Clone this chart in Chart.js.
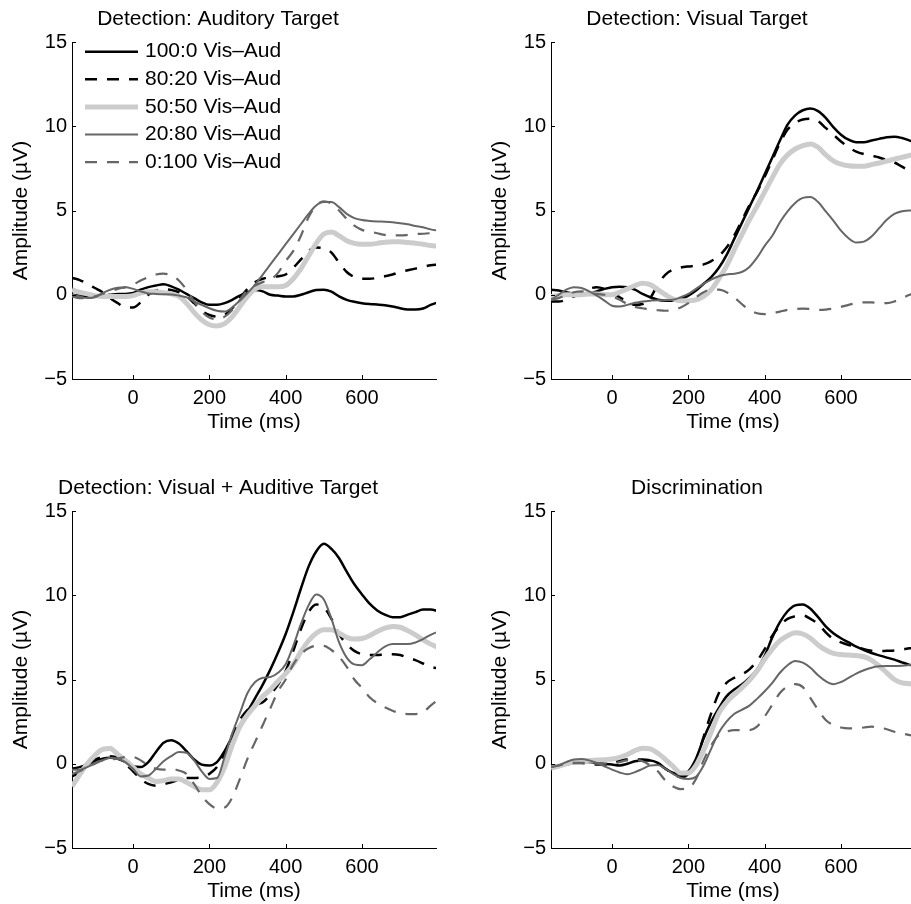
<!DOCTYPE html>
<html>
<head>
<meta charset="utf-8">
<script src="https://cdn.jsdelivr.net/npm/chart.js@4.4.1/dist/chart.umd.min.js"></script>
<style>
html, body { margin: 0; padding: 0; background: #fff; overflow: hidden; }
#wrap { position: relative; width: 911px; height: 904px; overflow: hidden; background: #fff; }
#wrap canvas { position: absolute; }
</style>
</head>
<body>
<div id="wrap">
  <canvas id="aud" width="508" height="440" style="left:0px;top:0px"></canvas>
  <canvas id="vis" width="508" height="440" style="left:479px;top:0px"></canvas>
  <canvas id="av" width="508" height="440" style="left:0px;top:469px"></canvas>
  <canvas id="dis" width="508" height="440" style="left:479px;top:469px"></canvas>
</div>
<script>
// -------------------- Data --------------------
const times = [-160, -140, -120, -100, -80, -60, -40, -20, 0, 20, 40, 60, 80, 100, 120, 140, 160, 180, 200,
  220, 240, 260, 280, 300, 320, 340, 360, 380, 400, 420, 440, 460, 480, 500, 520, 540, 560, 580, 600,
  620, 640, 660, 680, 700, 720, 740, 760, 780, 800];
const xTicks = [0, 200, 400, 600];
const yTicks = [-5, 0, 5, 10, 15];
const seriesLabels = ['100:0 Vis\u2013Aud', '80:20 Vis\u2013Aud', '50:50 Vis\u2013Aud', '20:80 Vis\u2013Aud', '0:100 Vis\u2013Aud'];
const panelTitles = ['Detection: Auditory Target', 'Detection: Visual Target',
  'Detection: Visual + Auditive Target', 'Discrimination'];

// Detection: Auditory Target
const aud100 = [0.0, -0.05, -0.1, -0.1, -0.05, 0.0, 0.05, 0.05, 0.1, 0.3, 0.45, 0.55, 0.62, 0.5, 0.3, 0.05, -0.2, -0.45, -0.6,
  -0.6, -0.5, -0.3, -0.05, 0.15, 0.28, 0.2, 0.0, -0.05, -0.1, -0.1, 0.0, 0.15, 0.28, 0.3, 0.18, -0.1, -0.3, -0.42, -0.5,
  -0.55, -0.58, -0.62, -0.7, -0.8, -0.87, -0.88, -0.82, -0.6, -0.45];
const aud80 = [1.0, 0.87, 0.65, 0.4, 0.15, -0.2, -0.5, -0.75, -0.75, -0.45, 0.0, 0.25, 0.32, 0.28, 0.15, -0.1, -0.5, -0.95, -1.2,
  -1.3, -1.2, -0.8, -0.2, 0.35, 0.75, 0.95, 1.05, 1.1, 1.2, 1.6, 2.1, 2.6, 2.8, 2.75, 2.5, 1.9, 1.35, 1.05, 0.95,
  0.95, 1.0, 1.1, 1.2, 1.35, 1.45, 1.55, 1.65, 1.75, 1.8];
const aud50 = [0.3, 0.15, 0.05, -0.05, -0.1, -0.1, -0.1, -0.1, -0.05, 0.1, 0.18, 0.18, 0.12, 0.05, -0.1, -0.5, -1.05, -1.5, -1.78,
  -1.85, -1.72, -1.3, -0.7, -0.1, 0.35, 0.47, 0.47, 0.47, 0.55, 0.95, 1.55, 2.3, 3.05, 3.6, 3.72, 3.5, 3.2, 3.05, 3.0,
  3.0, 3.05, 3.12, 3.15, 3.15, 3.1, 3.05, 3.0, 2.92, 2.88];
const aud20 = [0.0, -0.1, -0.2, -0.15, 0.1, 0.3, 0.42, 0.45, 0.35, 0.2, 0.08, 0.05, 0.03, 0.02, -0.05, -0.15, -0.4, -0.6, -0.8,
  -0.95, -1.0, -0.75, -0.35, 0.1, 0.6, 1.2, 1.8, 2.4, 3.0, 3.6, 4.2, 4.8, 5.3, 5.5, 5.5, 5.2, 4.8, 4.55, 4.43,
  4.38, 4.35, 4.33, 4.3, 4.25, 4.18, 4.08, 4.0, 3.88, 3.8];
const aud0 = [-0.1, -0.2, -0.2, -0.1, 0.05, 0.2, 0.35, 0.45, 0.6, 0.85, 1.05, 1.2, 1.25, 1.15, 0.85, 0.3, -0.4, -1.0, -1.35,
  -1.45, -1.3, -0.9, -0.3, 0.3, 0.55, 0.75, 0.9, 1.3, 2.0, 2.6, 3.5, 4.6, 5.3, 5.55, 5.4, 5.0, 4.5, 4.1, 3.85,
  3.75, 3.65, 3.55, 3.52, 3.52, 3.55, 3.6, 3.62, 3.65, 3.65];

// Detection: Visual Target
const vis100 = [0.3, 0.25, 0.15, 0.05, 0.0, 0.05, 0.2, 0.35, 0.45, 0.48, 0.45, 0.3, 0.05, -0.15, -0.3, -0.35, -0.35, -0.25, -0.05,
  0.25, 0.65, 1.05, 1.6, 2.35, 3.3, 4.25, 5.2, 6.15, 7.15, 8.15, 9.15, 10.1, 10.65, 10.95, 11.05, 10.9, 10.5, 9.95, 9.5,
  9.2, 9.05, 9.05, 9.15, 9.25, 9.35, 9.38, 9.3, 9.15, 9.0];
const vis80 = [-0.4, -0.4, -0.3, -0.1, 0.1, 0.35, 0.45, 0.35, 0.15, -0.15, -0.4, -0.6, -0.55, -0.2, 0.6, 1.2, 1.5, 1.62, 1.68,
  1.72, 1.8, 2.0, 2.3, 2.8, 3.5, 4.4, 5.3, 6.1, 7.0, 8.0, 9.0, 9.8, 10.2, 10.4, 10.45, 10.3, 9.9, 9.5, 9.1,
  8.75, 8.5, 8.35, 8.25, 8.15, 8.0, 7.85, 7.6, 7.35, 7.1];
const vis50 = [-0.1, -0.05, 0.0, 0.0, 0.0, 0.05, 0.05, 0.0, 0.0, 0.15, 0.35, 0.55, 0.68, 0.6, 0.3, 0.0, -0.25, -0.35, -0.35,
  -0.3, -0.1, 0.3, 0.95, 1.7, 2.65, 3.55, 4.45, 5.25, 6.1, 6.95, 7.75, 8.3, 8.65, 8.85, 8.95, 8.75, 8.3, 7.95, 7.75,
  7.65, 7.62, 7.63, 7.72, 7.82, 7.93, 8.05, 8.15, 8.27, 8.35];
const vis20 = [-0.3, 0.0, 0.3, 0.45, 0.4, 0.2, -0.05, -0.35, -0.65, -0.7, -0.6, -0.48, -0.4, -0.35, -0.32, -0.32, -0.3, -0.15, 0.05,
  0.35, 0.65, 0.9, 1.1, 1.2, 1.25, 1.35, 1.65, 2.2, 2.9, 3.5, 4.3, 4.95, 5.45, 5.75, 5.8, 5.5, 4.95, 4.4, 3.8,
  3.35, 3.1, 3.15, 3.45, 3.95, 4.45, 4.8, 4.95, 5.0, 5.0];
const vis0 = [-0.3, -0.2, 0.0, 0.15, 0.2, 0.15, 0.05, 0.0, -0.1, -0.3, -0.55, -0.72, -0.8, -0.88, -0.92, -0.95, -0.9, -0.75, -0.5,
  -0.15, 0.15, 0.3, 0.3, 0.15, -0.15, -0.55, -0.9, -1.1, -1.15, -1.1, -1.0, -0.9, -0.85, -0.82, -0.85, -0.9, -0.88, -0.82, -0.72,
  -0.6, -0.5, -0.45, -0.45, -0.5, -0.5, -0.4, -0.2, 0.0, 0.1];

// Detection: Visual + Auditive Target
const av100 = [-0.3, -0.2, -0.05, 0.15, 0.3, 0.35, 0.3, 0.1, -0.15, -0.2, 0.1, 0.7, 1.25, 1.4, 1.2, 0.75, 0.25, -0.05, -0.1,
  0.1, 0.75, 1.6, 2.3, 3.1, 3.9, 4.7, 5.6, 6.6, 7.7, 9.0, 10.4, 11.7, 12.6, 13.05, 12.75, 12.2, 11.4, 10.65, 10.05,
  9.5, 9.1, 8.85, 8.7, 8.7, 8.85, 9.0, 9.15, 9.15, 9.05];
const av80 = [-0.75, -0.5, -0.1, 0.25, 0.4, 0.45, 0.35, 0.0, -0.45, -0.9, -1.2, -1.3, -1.2, -1.1, -0.95, -0.85, -0.85, -0.8, -0.6,
  -0.2, 0.6, 1.7, 2.6, 3.2, 3.5, 3.65, 4.1, 4.7, 5.5, 6.7, 8.0, 9.0, 9.45, 9.3, 8.6, 7.7, 7.1, 6.7, 6.5,
  6.45, 6.45, 6.5, 6.5, 6.45, 6.3, 6.15, 5.95, 5.75, 5.65];
const av50 = [-1.35, -0.65, 0.0, 0.5, 0.85, 0.9, 0.55, 0.2, -0.2, -0.6, -0.85, -1.05, -1.0, -0.9, -0.9, -1.1, -1.35, -1.55, -1.55,
  -1.1, -0.2, 1.1, 2.2, 2.9, 3.45, 4.0, 4.4, 4.9, 5.35, 5.9, 6.65, 7.3, 7.75, 7.95, 7.95, 7.75, 7.5, 7.4, 7.43,
  7.6, 7.85, 8.05, 8.15, 8.1, 7.9, 7.65, 7.35, 7.1, 6.9];
const av20 = [-0.35, -0.35, -0.2, 0.0, 0.2, 0.35, 0.3, 0.1, -0.3, -0.75, -0.7, -0.3, 0.15, 0.45, 0.7, 0.65, 0.2, -0.45, -0.9,
  -0.85, 0.4, 1.8, 3.0, 4.2, 4.85, 5.1, 5.15, 5.4, 5.9, 7.0, 8.3, 9.4, 10.05, 9.75, 8.6, 7.2, 6.3, 5.9, 5.85,
  6.2, 6.6, 6.95, 7.1, 7.1, 7.1, 7.2, 7.4, 7.65, 7.85];
const av0 = [-0.6, -0.45, -0.2, 0.05, 0.2, 0.25, 0.3, 0.4, 0.4, 0.2, -0.1, -0.3, -0.35, -0.3, -0.4, -0.6, -1.2, -1.9, -2.4,
  -2.65, -2.6, -2.0, -0.9, 0.3, 1.3, 2.3, 3.3, 4.3, 5.0, 5.9, 6.5, 6.85, 7.0, 7.0, 6.75, 6.35, 5.75, 5.0, 4.5,
  3.95, 3.6, 3.35, 3.15, 3.0, 2.95, 2.95, 3.05, 3.45, 3.8];

// Discrimination
const dis100 = [-0.2, -0.15, -0.05, 0.05, 0.1, 0.1, 0.05, 0.0, -0.05, -0.1, 0.0, 0.15, 0.2, 0.2, 0.05, -0.3, -0.55, -0.65, -0.45,
  0.3, 1.5, 2.5, 3.3, 4.0, 4.4, 4.7, 5.1, 5.6, 6.4, 7.5, 8.4, 9.05, 9.4, 9.45, 9.2, 8.7, 8.15, 7.75, 7.45,
  7.2, 6.95, 6.75, 6.57, 6.43, 6.3, 6.18, 6.02, 5.87, 5.75];
const dis80 = [-0.15, -0.1, 0.0, 0.05, 0.05, 0.0, -0.05, -0.05, 0.0, 0.2, 0.25, 0.25, 0.25, 0.2, 0.05, -0.3, -0.6, -0.8, -0.6,
  0.2, 1.6, 3.0, 4.2, 4.8, 5.1, 5.3, 5.6, 6.1, 6.8, 7.6, 8.2, 8.6, 8.75, 8.8, 8.6, 8.3, 7.8, 7.4, 7.2,
  7.05, 6.95, 6.8, 6.7, 6.68, 6.7, 6.72, 6.78, 6.85, 6.88];
const dis50 = [-0.25, -0.15, 0.0, 0.1, 0.15, 0.2, 0.22, 0.24, 0.28, 0.38, 0.55, 0.78, 0.92, 0.88, 0.62, 0.25, -0.15, -0.55, -0.55,
  -0.1, 0.8, 1.9, 3.0, 3.65, 4.1, 4.5, 4.95, 5.5, 6.2, 6.8, 7.3, 7.6, 7.77, 7.7, 7.45, 7.05, 6.75, 6.55, 6.48,
  6.45, 6.42, 6.35, 6.15, 5.8, 5.4, 5.0, 4.8, 4.75, 4.72];
const dis20 = [-0.2, -0.1, 0.1, 0.25, 0.28, 0.2, 0.05, -0.15, -0.35, -0.52, -0.62, -0.5, -0.3, -0.1, -0.08, -0.3, -0.6, -0.85, -0.9,
  -0.78, -0.1, 0.9, 1.85, 2.5, 2.95, 3.2, 3.45, 3.85, 4.3, 4.8, 5.4, 5.85, 6.1, 6.0, 5.7, 5.25, 4.9, 4.72, 4.85,
  5.1, 5.35, 5.55, 5.7, 5.78, 5.8, 5.8, 5.82, 5.86, 5.9];
const dis0 = [-0.2, -0.1, 0.0, 0.05, 0.05, 0.05, 0.0, 0.0, 0.0, 0.1, 0.2, 0.2, 0.15, -0.1, -0.45, -1.0, -1.35, -1.5, -1.45,
  -0.9, 0.2, 1.1, 1.7, 1.9, 2.0, 2.0, 2.0, 2.2, 2.8, 3.5, 4.2, 4.6, 4.72, 4.55, 3.9, 3.2, 2.6, 2.3, 2.15,
  2.1, 2.1, 2.15, 2.2, 2.15, 2.05, 1.9, 1.8, 1.7, 1.65];

// -------------------- Styles --------------------
const FONT = '"Liberation Sans", Arial, Helvetica, sans-serif';
Chart.defaults.font.family = FONT;
Chart.defaults.color = '#000';

const lineStyles = [
  { color: '#000000', width: 2.5, dash: [] },
  { color: '#000000', width: 2.5, dash: [12, 10] },
  { color: '#cccccc', width: 5, dash: [] },
  { color: '#666666', width: 2, dash: [] },
  { color: '#666666', width: 2.2, dash: [12, 10] }
];

// small ticks pointing into the plot, like the original axes
const inwardTicks = {
  id: 'inwardTicks',
  afterDraw(chart) {
    const { ctx, chartArea, scales: { x, y } } = chart;
    ctx.save();
    ctx.strokeStyle = '#000';
    ctx.lineWidth = 1;
    ctx.beginPath();
    x.ticks.forEach(t => {
      const px = Math.round(x.getPixelForValue(t.value)) + 0.5;
      ctx.moveTo(px, chartArea.bottom);
      ctx.lineTo(px, chartArea.bottom - 4);
    });
    y.ticks.forEach(t => {
      const py = Math.round(y.getPixelForValue(t.value)) + 0.5;
      ctx.moveTo(chartArea.left, py);
      ctx.lineTo(chartArea.left + 4, py);
    });
    ctx.stroke();
    ctx.restore();
  }
};

// legend drawn inside the plot area (top left), no frame
const insideLegend = {
  id: 'insideLegend',
  afterDatasetsDraw(chart, args, opts) {
    if (!opts.show) return;
    const { ctx, chartArea } = chart;
    ctx.save();
    ctx.font = '21px ' + FONT;
    ctx.textBaseline = 'middle';
    ctx.fillStyle = '#000';
    chart.data.datasets.forEach((ds, i) => {
      const yy = chartArea.top + 9.7 + i * 27.6;
      const x0 = chartArea.left + 13;
      ctx.strokeStyle = ds.borderColor;
      ctx.lineWidth = ds.borderWidth;
      ctx.setLineDash(ds.borderDash);
      ctx.beginPath();
      ctx.moveTo(x0, yy);
      ctx.lineTo(x0 + 53, yy);
      ctx.stroke();
      ctx.setLineDash([]);
      ctx.fillText(ds.label, x0 + 60, yy);
    });
    ctx.restore();
  }
};

function makeChart(id, title, series, showLegend) {
  const datasets = series.map((vals, i) => ({
    label: seriesLabels[i],
    data: times.map((t, k) => ({ x: t, y: vals[k] })),
    borderColor: lineStyles[i].color,
    borderWidth: lineStyles[i].width,
    borderDash: lineStyles[i].dash,
    pointRadius: 0,
    cubicInterpolationMode: 'monotone',
    fill: false,
    order: 5 - i
  }));
  return new Chart(document.getElementById(id), {
    type: 'line',
    data: { datasets },
    plugins: [inwardTicks, insideLegend],
    options: {
      responsive: false,
      animation: false,
      events: [],
      layout: { padding: { left: 0, right: 72, top: 0, bottom: 0 } },
      plugins: {
        legend: { display: false },
        tooltip: { enabled: false },
        insideLegend: { show: showLegend },
        title: {
          display: true,
          text: title,
          color: '#000',
          font: { size: 21, weight: 'normal' },
          padding: { top: 6.5, bottom: 10.3 }
        }
      },
      scales: {
        x: {
          type: 'linear',
          min: -160,
          max: 794,
          grid: { display: false, drawTicks: false },
          border: { display: true, color: '#000', width: 1 },
          afterBuildTicks: s => { s.ticks = xTicks.map(v => ({ value: v })); },
          afterFit: s => { s.height = 61; },
          ticks: { color: '#000', font: { size: 20 }, padding: 7, maxRotation: 0 },
          title: { display: true, text: 'Time (ms)', color: '#000', font: { size: 21 }, padding: { top: 0, bottom: 5.5 } }
        },
        y: {
          type: 'linear',
          min: -5,
          max: 15,
          grid: { display: false, drawTicks: false },
          border: { display: true, color: '#000', width: 1 },
          afterBuildTicks: s => { s.ticks = yTicks.map(v => ({ value: v })); },
          afterFit: s => { s.width = 72; },
          ticks: {
            color: '#000', font: { size: 20 }, padding: 5,
            callback: v => v < 0 ? '\u2212' + Math.abs(v) : String(v)
          },
          title: { display: true, text: 'Amplitude (\u00b5V)', color: '#000', font: { size: 21 }, padding: { top: 9, bottom: 0 } }
        }
      }
    }
  });
}

makeChart('aud', panelTitles[0], [aud100, aud80, aud50, aud20, aud0], true);
makeChart('vis', panelTitles[1], [vis100, vis80, vis50, vis20, vis0], false);
makeChart('av', panelTitles[2], [av100, av80, av50, av20, av0], false);
makeChart('dis', panelTitles[3], [dis100, dis80, dis50, dis20, dis0], false);
</script>
</body>
</html>
